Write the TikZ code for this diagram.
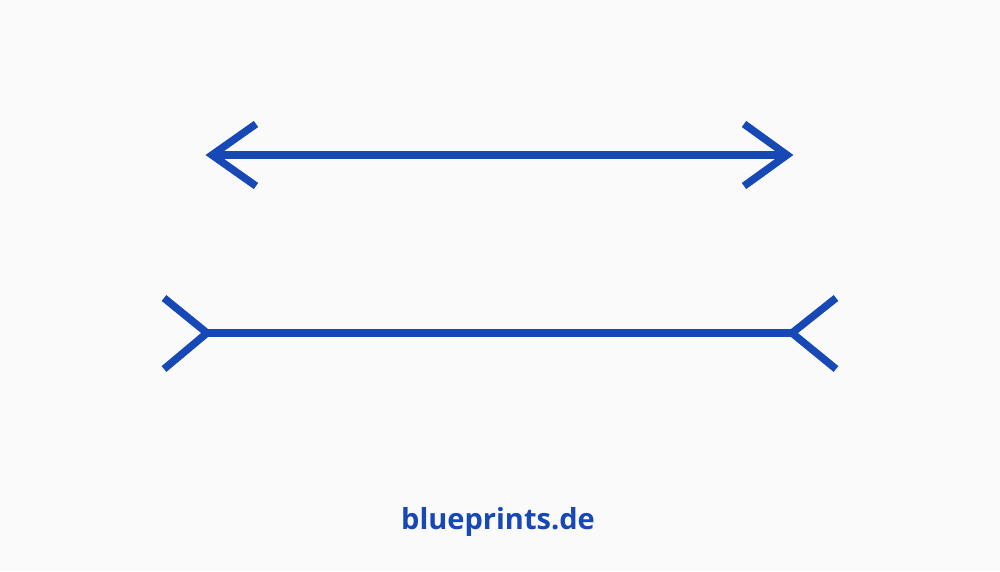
\documentclass[tikz,border=0pt]{standalone}
\usepackage{fontspec}
\setmainfont{Open Sans}
\definecolor{bp}{RGB}{22,72,182}
\definecolor{bg}{RGB}{250,250,250}
\begin{document}
\begin{tikzpicture}[x=0.02cm,y=-0.02cm,
  stroke/.style={draw=bp,line width=7.5*0.02cm,line cap=butt,line join=miter},
  brand/.style={text=bp,font=\bfseries\fontsize{16.5}{20}\selectfont,inner sep=0pt}]
\fill[bg] (0,0) rectangle (1000,571);
\useasboundingbox (0,0) rectangle (1000,571);
% top line: outward arrowheads
\coordinate (tl) at (212,155);
\coordinate (tr) at (787,155);
\coordinate (tla) at (256,124);
\coordinate (tlb) at (256,186);
\coordinate (tra) at (744,124);
\coordinate (trb) at (744,186);
\draw[stroke] (tl) -- (tr);
\draw[stroke] (tla) -- (tl) -- (tlb);
\draw[stroke] (tra) -- (tr) -- (trb);
% bottom line: inward fins
\coordinate (bl) at (207,333);
\coordinate (br) at (792,333);
\coordinate (bla) at (164,298);
\coordinate (blb) at (164,369);
\coordinate (bra) at (836,298);
\coordinate (brb) at (836,369);
\draw[stroke] (bl) -- (br);
\draw[stroke] (bla) -- (bl) -- (blb);
\draw[stroke] (bra) -- (br) -- (brb);
\node[brand] (logo) at (498,522) {blueprints.de};
\end{tikzpicture}
\end{document}
